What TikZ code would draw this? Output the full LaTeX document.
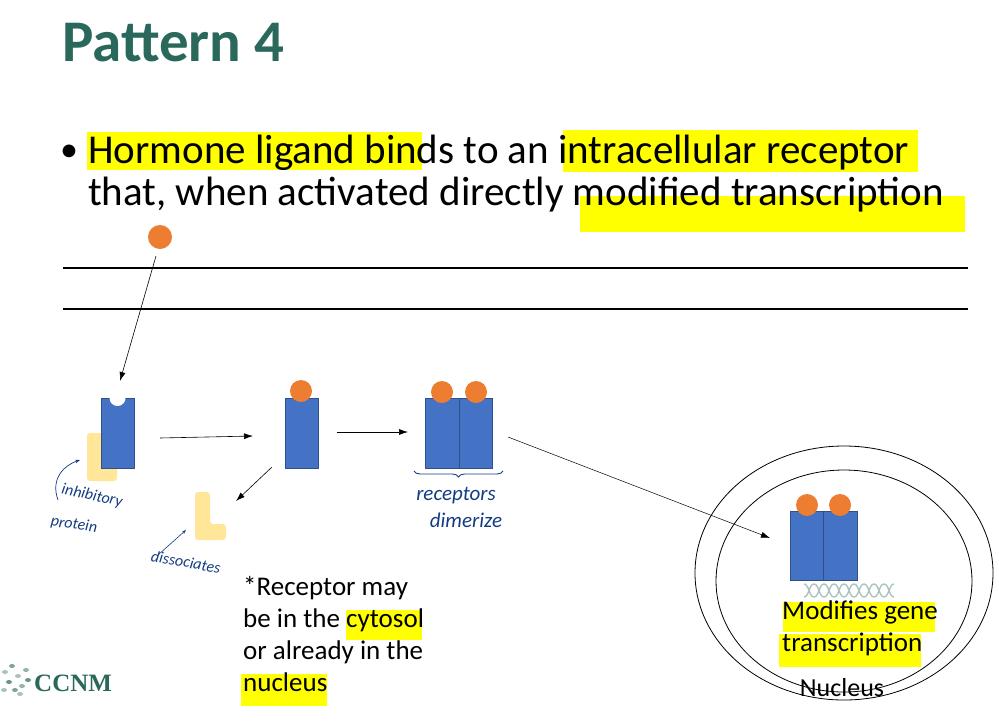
\documentclass[tikz,border=0pt]{standalone}
\usepackage{fontspec}
\setmainfont{Carlito}
\usetikzlibrary{decorations.pathreplacing,arrows.meta}
\definecolor{teal}{RGB}{42,104,92}
\definecolor{rblue}{RGB}{68,114,196}
\definecolor{rorange}{RGB}{237,125,49}
\definecolor{ryellow}{RGB}{255,230,153}
\definecolor{hl}{RGB}{255,255,0}
\definecolor{pen}{RGB}{20,60,130}
\begin{document}
\begin{tikzpicture}[x=1pt,y=-1pt,
  rec/.style={fill=rblue,draw=rblue!70!black,line width=0.6pt},
  lig/.style={fill=rorange},
  arr/.style={-{Latex[length=9pt,width=6pt]},line width=0.6pt},
  hand/.style={text=pen,font=\fontsize{16}{18}\selectfont\itshape},
  small/.style={font=\fontsize{27}{32}\selectfont,align=left,anchor=north west,inner sep=0},
]
\useasboundingbox (0,0) rectangle (999,721);
% highlights
\fill[hl] (87,132) rectangle (422,170);
\fill[hl] (563,130) rectangle (918,172);
\fill[hl] (580,196) rectangle (965,232);
% title
\node[anchor=base west,inner sep=0,text=teal,font=\fontsize{59}{64}\selectfont\bfseries] (title) at (62,61) {Pattern 4};
\node[anchor=base west,inner sep=0,font=\fontsize{36}{46}\selectfont] (bul) at (60,161) {•};
\node[anchor=base west,inner sep=0,font=\fontsize{41}{46}\selectfont] (l1) at (88,163) {Hormone ligand binds to an intracellular receptor};
\node[anchor=base west,inner sep=0,font=\fontsize{41}{46}\selectfont] (l2) at (88,205) {that, when activated directly modified transcription};
% membrane
\draw[line width=1.2pt] (63,268) -- (968,268) (63,309) -- (968,309);
% free ligand
\fill[lig] (160,237) circle (12);
\node[inner sep=0] (lg) at (160,237) {};
\coordinate (t1) at (120,381);
\draw[arr] (156,256) -- (t1);
% receptor 1
\fill[ryellow,rounded corners=3pt] (87,433) rectangle (117,481);
\fill[rec] (101,398) rectangle (134,468);
\fill[white] (117.5,398) circle (8);
\node[inner sep=0] (r1) at (117,433) {};
\draw[pen,-{Stealth[length=5pt]},line width=0.7pt] (58,500) .. controls (50,478) and (65,465) .. (80,460);
\node[hand,rotate=-12] (ip) at (92,496) {inhibitory};
\node[hand,rotate=-8] (pp) at (74,525) {protein};
% receptor 2
\draw[arr] (160,438) -- (253,436);
\fill[rec] (285,398) rectangle (318,468);
\fill[lig] (301,391) circle (11);
\draw[arr] (272,467) -- (236,501);
\fill[ryellow,rounded corners=3pt] (195,492) -- (210,492) -- (210,524) -- (226,524) -- (226,540) -- (195,540) -- cycle;
\draw[pen,-{Stealth[length=4pt]},line width=0.6pt] (158,555) -- (186,530);
\node[hand,rotate=-10] (dis) at (186,562) {dissociates};
% dimer
\draw[arr] (337,432) -- (408,432);
\fill[rec] (425,398) rectangle (459,468);
\fill[rec] (459,398) rectangle (492,468);
\fill[lig] (442,392) circle (11);
\fill[lig] (476,392) circle (11);
\draw[pen,line width=0.9pt,decorate,decoration={brace,mirror,amplitude=6pt}] (414,471) -- (503,471);
\node[hand,font=\fontsize{21}{22}\selectfont\itshape] (rc) at (456,496) {receptors};
\node[hand,font=\fontsize{21}{22}\selectfont\itshape] (dm) at (466,520) {dimerize};
% nucleus
\draw[line width=0.8pt] (844,573) ellipse (149 and 127);
\draw[line width=0.8pt] (844,581) ellipse (128 and 111);
\draw[arr,line width=0.5pt] (508,437) -- (770,538);
\fill[rec] (790,511) rectangle (823,580);
\fill[rec] (823,511) rectangle (857,580);
\fill[lig] (807,505) circle (11);
\fill[lig] (840,505) circle (11);
\foreach \i in {0,...,8}{
  \draw[teal!40,line width=1.4pt] (804+\i*10,584) .. controls (809+\i*10,584) and (809+\i*10,597) .. (814+\i*10,597);
  \draw[teal!40,line width=1.4pt] (804+\i*10,597) .. controls (809+\i*10,597) and (809+\i*10,584) .. (814+\i*10,584);
}
\fill[hl] (783,602) rectangle (935,632);
\fill[hl] (779,634) rectangle (921,667);
\node[small,anchor=north west] (mg) at (782,601) {Modifies gene\\transcription};
\node[font=\fontsize{26}{28}\selectfont,inner sep=0] (nuc) at (842,688) {Nucleus};
% note
\fill[hl] (346,610) rectangle (422,640);
\fill[hl] (241,674) rectangle (327,706);
\node[small] (note) at (243,576) {*Receptor may\\be in the cytosol\\or already in the\\nucleus};
% logo
\foreach \x/\y/\c in {5/672/40,12/666/60,18/676/40,9/682/70,22/686/50,15/690/60,4/690/40,26/670/50,28/680/70,20/694/40}
  \fill[teal!\c] (\x,\y) ellipse (3 and 2);
\node[anchor=west,inner sep=0,text=teal,font=\fontsize{25}{26}\selectfont\bfseries\rmfamily] (ccnm) at (34,683) {\fontspec{Liberation Serif}CCNM};
\end{tikzpicture}
\end{document}
